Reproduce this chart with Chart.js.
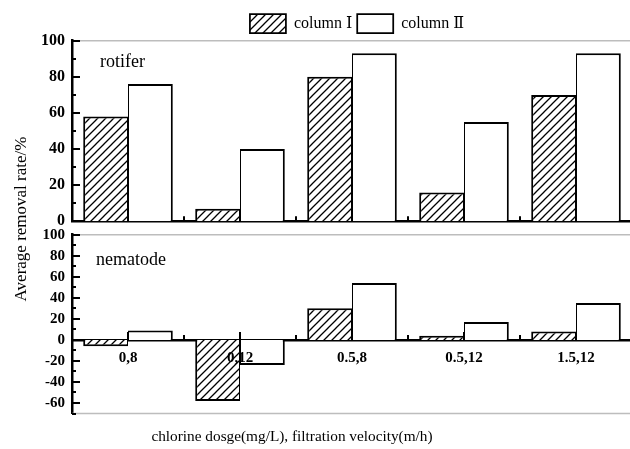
<!DOCTYPE html>
<html><head><meta charset="utf-8">
<script src="https://cdn.jsdelivr.net/npm/chart.js@4"></script>
<style>
html,body{margin:0;padding:0;background:#fff;overflow:hidden;width:630px;height:449px;}
canvas{position:absolute;left:0;top:0;}
</style></head><body>
<canvas id="topC" width="714" height="449"></canvas>
<canvas id="botC" width="640" height="449"></canvas>
<script>
const categories = ['0,8', '0,12', '0.5,8', '0.5,12', '1.5,12'];
const seriesNames = ['column \u2160', 'column \u2161'];
const rotiferI  = [58, 7, 80, 16, 70];
const rotiferII = [76, 40, 93, 55, 93];
const nematodeI  = [-6, -58, 30, 4, 8];
const nematodeII = [9, -24, 54, 17, 35];
const topTickLabels = [0, 20, 40, 60, 80, 100];
const bottomTickLabels = [-60, -40, -20, 0, 20, 40, 60, 80, 100];
const panelNames = ['rotifer', 'nematode'];
const yTitle = 'Average removal rate/%';
const xTitle = 'chlorine dosge(mg/L), filtration velocity(m/h)';

const SERIF = "'Liberation Serif','Times New Roman','DejaVu Serif','Noto Sans CJK SC',serif";

function hatch(ctx) {
  const c = document.createElement('canvas');
  c.width = 8; c.height = 8;
  const x = c.getContext('2d');
  x.fillStyle = '#fff'; x.fillRect(0, 0, 8, 8);
  x.strokeStyle = '#000'; x.lineWidth = 1.3;
  x.beginPath();
  x.moveTo(-1, 9); x.lineTo(9, -1);
  x.moveTo(-1, 1); x.lineTo(1, -1);
  x.moveTo(7, 9); x.lineTo(9, 7);
  x.stroke();
  return ctx.createPattern(c, 'repeat');
}

function frame(id, drawBottomGray) {
  return {
    id: id,
    afterDraw(chart) {
      const ctx = chart.ctx, ca = chart.chartArea;
      const ys = chart.scales.y, xs = chart.scales.x;
      ctx.save();
      ctx.strokeStyle = '#bdbdbd'; ctx.lineWidth = 1.5;
      ctx.beginPath();
      ctx.moveTo(ca.left, ca.top); ctx.lineTo(ca.right + 10, ca.top);
      if (drawBottomGray) { ctx.moveTo(ca.left, ca.bottom); ctx.lineTo(ca.right + 10, ca.bottom); }
      ctx.stroke();
      ctx.strokeStyle = '#000'; ctx.lineWidth = 2;
      ctx.beginPath();
      for (let v = Math.ceil(ys.min / 10) * 10; v <= ys.max; v += 10) {
        const py = Math.round(ys.getPixelForValue(v));
        const len = (v % 20 === 0) ? 8 : 4;
        ctx.moveTo(ca.left, py); ctx.lineTo(ca.left + len, py);
      }
      const y0 = ys.getPixelForValue(0);
      for (let i = 0; i < categories.length; i++) {
        const pc = Math.round(xs.getPixelForValue(i));
        ctx.moveTo(pc, y0); ctx.lineTo(pc, y0 - 8);
        if (i < categories.length - 1) {
          const px = Math.round((xs.getPixelForValue(i) + xs.getPixelForValue(i + 1)) / 2);
          ctx.moveTo(px, y0); ctx.lineTo(px, y0 - 5);
        }
      }
      ctx.stroke();
      ctx.restore();
    }
  };
}

const textsTop = {
  id: 'textsTop',
  afterDraw(chart) {
    const ctx = chart.ctx;
    ctx.save();
    ctx.fillStyle = '#000';
    ctx.font = '18px ' + SERIF;
    ctx.textAlign = 'left'; ctx.textBaseline = 'alphabetic';
    ctx.fillText(panelNames[0], 100, 66.5);
    ctx.restore();
  }
};
const textsBot = {
  id: 'textsBot',
  afterDraw(chart) {
    const ctx = chart.ctx;
    ctx.save();
    ctx.fillStyle = '#000';
    ctx.font = '18px ' + SERIF;
    ctx.textAlign = 'left'; ctx.textBaseline = 'alphabetic';
    ctx.fillText(panelNames[1], 96, 265);
    ctx.font = '15.3px ' + SERIF;
    ctx.textAlign = 'center'; ctx.textBaseline = 'middle';
    ctx.fillText(xTitle, 292, 437);
    ctx.translate(22, 219);
    ctx.rotate(-Math.PI / 2);
    ctx.font = '17px ' + SERIF;
    ctx.fillText(yTitle, 0, 0);
    ctx.restore();
  }
};

function barDS(label, data, pattern, first) {
  return {
    label: label,
    data: data,
    backgroundColor: pattern || '#ffffff',
    borderColor: '#000',
    borderWidth: first ? {top: 2, left: 2, right: 1, bottom: 2} : {top: 2, left: 1, right: 2, bottom: 2},
    barPercentage: 1.0,
    categoryPercentage: 0.8,
    inflateAmount: 0
  };
}

const tctx = document.getElementById('topC').getContext('2d');
const bctx = document.getElementById('botC').getContext('2d');

new Chart(tctx, {
  type: 'bar',
  data: {
    labels: categories,
    datasets: [barDS(seriesNames[0], rotiferI, hatch(tctx), true), barDS(seriesNames[1], rotiferII, null, false)]
  },
  options: {
    responsive: false, animation: false, devicePixelRatio: 1,
    layout: {padding: {top: 9, bottom: 449 - 221.3, left: 0, right: 0}},
    plugins: {
      tooltip: {enabled: false},
      legend: {
        display: true, position: 'top', maxHeight: 31.7,
        labels: {boxWidth: 36, boxHeight: 19, padding: 5, color: '#000', font: {family: SERIF, size: 16}}
      }
    },
    scales: {
      x: {
        afterFit(s) { s.height = 0; },
        grid: {display: false, drawTicks: false},
        border: {display: true, color: '#000', width: 2.5},
        ticks: {display: false}
      },
      y: {
        min: 0, max: 100,
        afterFit(s) { s.width = 72; },
        afterBuildTicks(s) { s.ticks = topTickLabels.map(v => ({value: v})); },
        grid: {display: false, drawTicks: false},
        border: {display: true, color: '#000', width: 2.5},
        ticks: {
          padding: 7, color: '#000',
          font: {family: SERIF, size: 16, weight: 'bold'}
        }
      },
      yR: {
        position: 'right', display: true,
        afterFit(s) { s.width = 82; },
        grid: {display: false, drawTicks: false},
        border: {display: false},
        ticks: {display: false}
      }
    }
  },
  plugins: [frame('frameTop', false), textsTop]
});

new Chart(bctx, {
  type: 'bar',
  data: {
    labels: categories,
    datasets: [barDS(seriesNames[0], nematodeI, hatch(bctx), true), barDS(seriesNames[1], nematodeII, null, false)]
  },
  options: {
    responsive: false, animation: false, devicePixelRatio: 1,
    layout: {padding: {top: 234.7, bottom: 449 - 413.5, left: 0, right: 8}},
    plugins: {tooltip: {enabled: false}, legend: {display: false}},
    scales: {
      x: {
        position: {y: 0},
        grid: {display: false, drawTicks: false},
        border: {display: true, color: '#000', width: 2.5},
        ticks: {
          z: 2, padding: 9, color: '#000', maxRotation: 0, autoSkip: false,
          font: {family: SERIF, size: 15, weight: 'bold'}
        }
      },
      y: {
        min: -70, max: 100,
        afterFit(s) { s.width = 72; },
        afterBuildTicks(s) { s.ticks = bottomTickLabels.map(v => ({value: v})); },
        grid: {display: false, drawTicks: false},
        border: {display: true, color: '#000', width: 2.5},
        ticks: {
          padding: 7, color: '#000',
          font: {family: SERIF, size: 15, weight: 'bold'}
        }
      }
    }
  },
  plugins: [frame('frameBot', true), textsBot]
});
</script>
</body></html>
